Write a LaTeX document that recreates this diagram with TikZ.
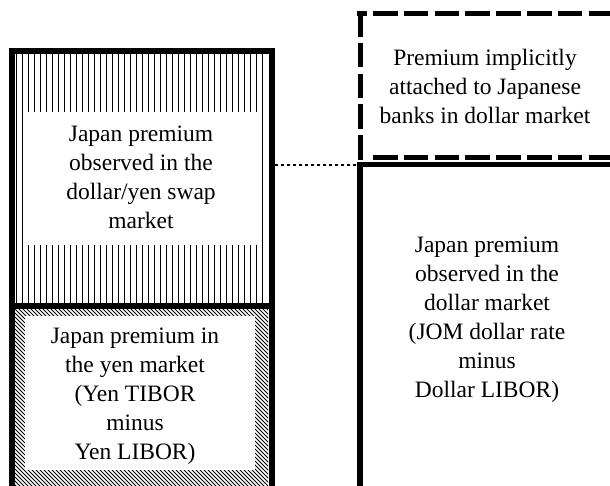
\documentclass[tikz,border=0pt]{standalone}
\usepackage{fontspec}
\setmainfont{Liberation Serif}
\begin{document}
\begin{tikzpicture}[x=1pt,y=-1pt,
  frame/.style={line width=6pt},
  hatchv/.style={line width=1.6pt},
  hatchd/.style={line width=1pt},
  dashedframe/.style={line width=5pt, dash pattern=on 24.5pt off 6.3pt},
  dotconn/.style={line width=2.5pt, dash pattern=on 3.8pt off 2.2pt},
  lbl/.style={align=center, font=\fontsize{23.5}{29}\selectfont, inner sep=0pt}]
\useasboundingbox (0,0) rectangle (610,485);
% vertical hatching (top-left section)
\foreach \i in {0,...,41} \draw[hatchv] ({16.5+6*\i},54) -- ({16.5+6*\i},303);
\fill[white] (25,112) rectangle (260,245);
% diagonal hatching (bottom-left section)
\begin{scope}
  \clip (15,309) rectangle (268,485);
  \foreach \i in {0,...,110} \draw[hatchd] ({15-180+4*\i},309) -- ++(180,180);
\end{scope}
\fill[white] (25,316) rectangle (255,470);
% left column frame
\draw[frame] (12,520) -- (12,51) -- (271.5,51) -- (271.5,520);
\draw[frame] (12,306) -- (271.5,306);
% right solid box
\draw[line width=5.5pt] (360,520) -- (360,164.5) -- (620,164.5);
% dashed box
\draw[dashedframe] (360,12) -- (360,160);
\draw[dashedframe, dash phase=14.8pt] (357,13) -- (620,13);
\draw[dashedframe] (373,157) -- (620,157);
% dotted connector
\coordinate (lcol) at (274.5,165);
\coordinate (rbox) at (357,165);
\draw[dotconn] (lcol) -- (rbox);
% labels
\node[lbl] (prem) at (485,86) {Premium implicitly\\attached to Japanese\\banks in dollar market};
\node[lbl] (jpsw) at (141,177) {Japan premium\\observed in the\\dollar/yen swap\\market};
\node[lbl] (jpyen) at (135,396) {Japan premium in\\the yen market\\(Yen TIBOR\\minus\\Yen LIBOR)};
\node[lbl] (jpdol) at (487,320) {Japan premium\\observed in the\\dollar market\\(JOM dollar rate\\minus\\Dollar LIBOR)};
\end{tikzpicture}
\end{document}
